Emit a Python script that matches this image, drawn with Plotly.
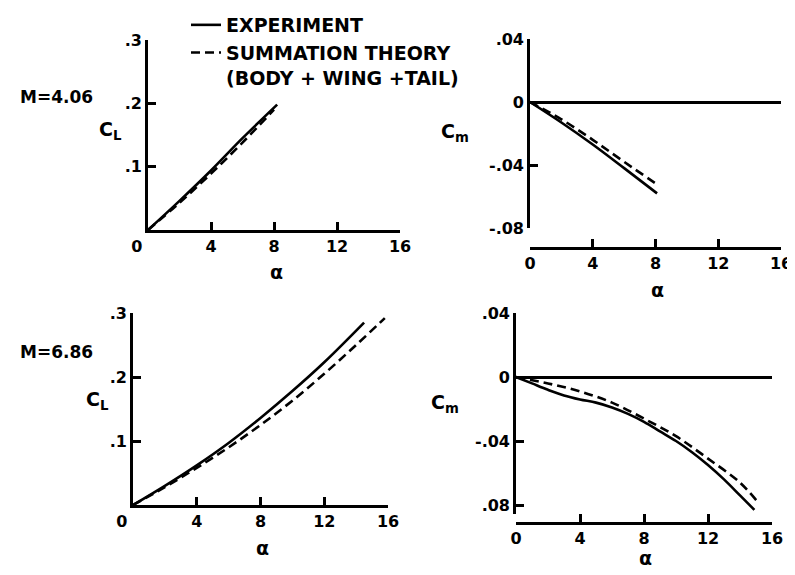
import plotly.graph_objects as go

# M = 4.06, lift
alpha_cl_406_exp = [0, 2, 4, 6, 8.2]
cl_406_exp = [0, 0.046, 0.094, 0.145, 0.198]
alpha_cl_406_th = [0, 2, 4, 6, 8]
cl_406_th = [0, 0.043, 0.089, 0.138, 0.190]

# M = 4.06, pitching moment
alpha_cm_406_exp = [0, 2, 4, 6, 8.1]
cm_406_exp = [0, -0.013, -0.027, -0.042, -0.058]
alpha_cm_406_th = [0, 2, 4, 6, 8.2]
cm_406_th = [0, -0.011, -0.024, -0.038, -0.053]

# M = 6.86, lift
alpha_cl_686_exp = [0, 2, 4, 6, 8, 10, 12, 14.5]
cl_686_exp = [0, 0.030, 0.062, 0.097, 0.136, 0.178, 0.223, 0.285]
alpha_cl_686_th = [0, 2, 4, 6, 8, 10, 12, 14, 15.8]
cl_686_th = [0, 0.028, 0.058, 0.090, 0.125, 0.163, 0.205, 0.250, 0.292]

# M = 6.86, pitching moment
alpha_cm_686_exp = [0, 1, 2, 3, 4, 5, 6, 7, 8, 9, 10, 11, 12, 13, 14, 14.9]
cm_686_exp = [0, -0.004, -0.008, -0.0115, -0.014, -0.016, -0.019, -0.023,
              -0.028, -0.034, -0.040, -0.047, -0.055, -0.064, -0.074, -0.083]
alpha_cm_686_th = [0, 2, 4, 6, 8, 10, 12, 14, 15.1]
cm_686_th = [0, -0.004, -0.009, -0.016, -0.026, -0.037, -0.051, -0.066, -0.078]

x_ticks = [0, 4, 8, 12, 16]
cl_ticks = [0.1, 0.2, 0.3]
cl_ticktext = [".1", ".2", ".3"]
cm_ticks = [0.04, 0, -0.04, -0.08]
cm_ticktext_top = [".04", "0", "-.04", "-.08"]
cm_ticktext_bot = [".04", "0", "-.04", ".08"]

# the page body keeps its default 8px margin, so the figure is a bit smaller
# and layout positions below are given in window pixels
OFF = 8
W, H = 795 - OFF, 575 - OFF
FONT = "DejaVu Sans"
LW = 2.6

def px(x):
    return (x - OFF) / W

def py(y):
    return 1 - (y - OFF) / H

fig = go.Figure()

def add_pair(xa, ya, ax, ay, tx, ty, legend):
    fig.add_trace(go.Scatter(x=ax, y=ay, mode="lines", xaxis=xa, yaxis=ya,
                             line=dict(color="black", width=LW, shape="spline"),
                             name="EXPERIMENT", showlegend=legend))
    fig.add_trace(go.Scatter(x=tx, y=ty, mode="lines", xaxis=xa, yaxis=ya,
                             line=dict(color="black", width=LW, shape="spline", dash="9px,5px"),
                             name="SUMMATION THEORY<br>(BODY + WING +TAIL)", showlegend=legend))

add_pair("x", "y", alpha_cl_406_exp, cl_406_exp, alpha_cl_406_th, cl_406_th, True)
add_pair("x2", "y2", alpha_cm_406_exp, cm_406_exp, alpha_cm_406_th, cm_406_th, False)
add_pair("x3", "y3", alpha_cl_686_exp, cl_686_exp, alpha_cl_686_th, cl_686_th, False)
add_pair("x4", "y4", alpha_cm_686_exp, cm_686_exp, alpha_cm_686_th, cm_686_th, False)

tickfont = dict(family=FONT, size=16, color="black", weight="bold")
common_ax = dict(showline=True, linecolor="black", linewidth=LW, ticks="inside",
                 ticklen=8, tickwidth=LW, tickcolor="black", showgrid=False,
                 tickfont=tickfont, fixedrange=True, automargin=False)

zero_cl = "0\u00a0\u00a0\u00a0\u00a0"

fig.update_layout(
    width=W, height=H,
    margin=dict(l=0, r=0, t=0, b=0, autoexpand=False),
    paper_bgcolor="white", plot_bgcolor="white",
    font=dict(family=FONT, color="black"),
    # top-left: CL, M=4.06
    xaxis=dict(common_ax, domain=[px(148), px(400)], range=[0, 16], anchor="y",
               tickvals=x_ticks, ticktext=[zero_cl, "4", "8", "12", "16"], zeroline=False),
    yaxis=dict(common_ax, domain=[py(230), py(40)], range=[0, 0.3], anchor="x",
               tickvals=cl_ticks, ticktext=cl_ticktext, zeroline=False),
    # top-right: Cm, M=4.06
    xaxis2=dict(common_ax, domain=[px(530), px(781)], range=[0, 16], anchor="free",
                position=py(248), tickvals=x_ticks, ticktext=[str(v) for v in x_ticks],
                zeroline=False),
    yaxis2=dict(common_ax, domain=[py(228), py(39)], range=[-0.08, 0.04], anchor="x2",
                tickvals=cm_ticks, ticktext=cm_ticktext_top, zeroline=True,
                zerolinecolor="black", zerolinewidth=LW),
    # bottom-left: CL, M=6.86
    xaxis3=dict(common_ax, domain=[px(133), px(388)], range=[0, 16], anchor="y3",
                tickvals=x_ticks, ticktext=[zero_cl, "4", "8", "12", "16"], zeroline=False),
    yaxis3=dict(common_ax, domain=[py(505), py(313)], range=[0, 0.3], anchor="x3",
                tickvals=cl_ticks, ticktext=cl_ticktext, zeroline=False),
    # bottom-right: Cm, M=6.86
    xaxis4=dict(common_ax, domain=[px(516), px(772)], range=[0, 16], anchor="free",
                position=py(523), tickvals=x_ticks, ticktext=[str(v) for v in x_ticks],
                zeroline=False),
    yaxis4=dict(common_ax, domain=[py(514), py(313)], range=[-0.0856, 0.04], anchor="x4",
                tickvals=cm_ticks, ticktext=cm_ticktext_bot, zeroline=True,
                zerolinecolor="black", zerolinewidth=LW),
    legend=dict(x=px(186), y=py(6), xanchor="left", yanchor="top",
                bgcolor="rgba(0,0,0,0)", valign="top",
                font=dict(family=FONT, size=19, color="black", weight="bold")),
)

labfont = dict(family=FONT, size=17, color="black", weight="bold")
bigfont = dict(family=FONT, size=19, color="black", weight="bold")
notes = [
    ("M=4.06", 18, 97, "left", labfont),
    ("M=6.86", 18, 352, "left", labfont),
    ("C<sub>L</sub>", 110, 130, "center", bigfont),
    ("C<sub>L</sub>", 97, 400, "center", bigfont),
    ("C<sub>m</sub>", 455, 133, "center", bigfont),
    ("C<sub>m</sub>", 445, 403, "center", bigfont),
    ("α", 276, 272, "center", bigfont),
    ("α", 657, 290, "center", bigfont),
    ("α", 262, 548, "center", bigfont),
    ("α", 645, 558, "center", bigfont),
]
for txt, x, y, anc, f in notes:
    fig.add_annotation(text=txt, x=px(x), y=py(y), xref="paper", yref="paper",
                       xanchor=anc, yanchor="middle", showarrow=False, font=f)

fig.write_html("out.html")
